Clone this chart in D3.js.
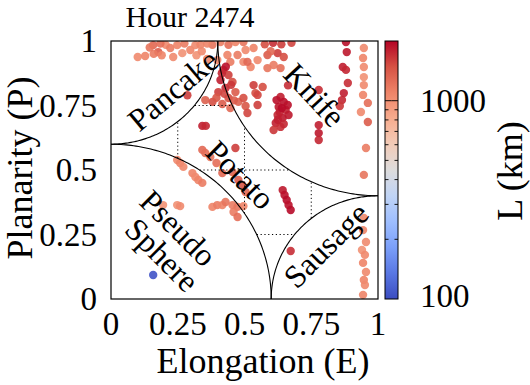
<!DOCTYPE html>
<html><head><meta charset="utf-8"><script src="https://d3js.org/d3.v7.min.js"></script></head>
<body style="margin:0">
<script>
// [elongation, planarity, L (km)] grouped by where they sit on the plot
const topLeft = [[0.10,0.938,1050],[0.128,0.942,1100],[0.158,0.984,1300],[0.177,0.957,1400],[0.16,0.95,1150],
  [0.19,0.945,1100],[0.205,0.985,1050],[0.222,0.973,1150],[0.233,0.938,1050],[0.248,0.984,1100],[0.267,0.953,1000],
  [0.275,0.99,1150],[0.297,0.965,1100],[0.316,0.984,1050],[0.32,0.945,1000],[0.335,0.985,1100],[0.34,0.96,1050],
  [0.36,0.93,1100],[0.145,0.975,1200],[0.185,0.99,1250]];
const tipTop = [[0.41,0.996,1150],[0.44,0.985,1250],[0.466,0.996,1100],[0.496,0.996,1200],[0.436,0.946,1100],
  [0.474,0.946,1150],[0.504,0.965,1050],[0.534,0.973,1100],[0.549,0.926,1050],[0.398,0.926,1100],[0.447,0.919,1150],
  [0.496,0.919,1050],[0.523,0.899,1100],[0.38,0.985,1200],[0.36,0.99,1100]];
const tipColumn = [[0.421,0.888,1700],[0.44,0.868,1600],[0.41,0.849,1800],[0.455,0.841,1500],[0.429,0.818,1700],
  [0.402,0.802,1600],[0.466,0.802,1400],[0.44,0.779,1500],[0.417,0.756,1400],[0.477,0.764,1350],[0.38,0.764,1500],
  [0.447,0.74,1300],[0.504,0.748,1450],[0.353,0.771,1350],[0.43,0.9,1900],[0.415,0.875,1750],[0.45,0.83,1650],
  [0.425,0.795,1550],[0.46,0.77,1400],[0.395,0.78,1450],[0.286,0.79,1600],[0.496,0.779,1500],[0.511,0.721,1550],
  [0.541,0.798,1500],[0.549,0.752,1600]];
const knifeTop = [[0.576,0.987,1500],[0.607,0.993,1700],[0.638,0.987,1600],[0.676,0.993,1550],[0.586,0.946,1400],
  [0.624,0.953,1600],[0.647,0.938,1500],[0.586,0.895,1200],[0.609,0.907,1150],[0.635,0.895,1250],[0.511,0.919,1300],
  [0.598,0.96,1300],[0.534,0.829,1600],[0.568,0.822,1500],[0.549,0.791,1550],[0.663,0.828,1700]];
const knifeCluster = [[0.635,0.783,1800],[0.647,0.764,1900],[0.628,0.744,1850],[0.654,0.733,1800],[0.624,0.713,1750],
  [0.643,0.702,1850],[0.617,0.682,1800],[0.635,0.667,1700],[0.609,0.655,1650],[0.662,0.752,1900],[0.665,0.713,1850],
  [0.647,0.678,1750],[0.632,0.725,1800],[0.62,0.771,1900],[0.64,0.74,1950],[0.625,0.695,1800],
  [0.778,0.81,1700],[0.778,0.674,1800],[0.778,0.643,1850],[0.778,0.616,1750]];
const rightColumns = [[0.88,0.996,1900],[0.883,0.957,1850],[0.868,0.899,1800],[0.88,0.888,1750],[0.887,0.837,1700],
  [0.872,0.798,1800],[0.865,0.771,1750],[0.857,0.748,1650],
  [0.947,0.973,1050],[0.944,0.934,1100],[0.947,0.899,1050],[0.947,0.86,1000],[0.947,0.829,1050],[0.944,0.791,1100],
  [0.962,0.76,1250],[0.936,0.725,1050],[0.962,0.686,1400],[0.955,0.585,1150],[0.947,0.481,1200]];
const sausagePts = [[0.947,0.314,1050],[0.944,0.267,1100],[0.955,0.221,1050],[0.94,0.19,1000],[0.951,0.171,1050],
  [0.944,0.14,1100],[0.955,0.105,1050],[0.947,0.074,1100],[0.951,0.054,1050],[0.944,0.016,1100],[0.673,0.186,1700]];
const potatoPts = [[0.342,0.671,1800],[0.355,0.671,1750],[0.466,0.585,1600],[0.342,0.578,1300],[0.353,0.566,1250],
  [0.372,0.55,1200],[0.395,0.527,1250],[0.417,0.488,1300],[0.455,0.492,1350],[0.477,0.461,1400],[0.492,0.442,1450],
  [0.504,0.415,1300],[0.248,0.539,1050],[0.259,0.527,1100],[0.271,0.512,1050],[0.305,0.488,1100],[0.316,0.473,1050],
  [0.327,0.461,1100],[0.342,0.45,1150],[0.38,0.357,1100],[0.398,0.364,1150],[0.417,0.364,1100],[0.429,0.376,1200],
  [0.248,0.364,1000],[0.259,0.36,1050],[0.195,0.364,1000],[0.455,0.364,1150],[0.474,0.357,1200],[0.496,0.36,1100],
  [0.459,0.337,1150],[0.474,0.318,1250],[0.643,0.422,1850],[0.65,0.403,1900],[0.658,0.384,1950],[0.665,0.364,1900],
  [0.673,0.345,1950]];
const spherePts = [[0.158,0.093,105]];

// class boundaries: quarter circles (centre E, centre P, radius)
const boundaries = [[0,1,0.4],[1,1,0.6],[0,0,0.6],[1,0,0.4]];
const gridLevels = [0.25, 0.5, 0.75];

const xTicks = [0, 0.25, 0.5, 0.75, 1];
const xTickLabels = ["0", "0.25", "0.5", "0.75", "1"];
const yTicks = [0, 0.25, 0.5, 0.75, 1];
const yTickLabels = ["0", "0.25", "0.5", "0.75", "1"];
const cbTicks = [100, 1000];
const cbMinor = [200, 300, 400, 500, 600, 700, 800, 900, 2000];
const lDomain = [100, 2000];
const regionNames = ["Pancake", "Knife", "Potato", "Pseudo", "Sphere", "Sausage"];
const coolwarm = ["#3b4cc0", "#5977e3", "#7b9ff9", "#9ebeff", "#c0d4f5", "#dddcdc",
                  "#f2cbb7", "#f7ac8e", "#ee8468", "#d65244", "#b40426"];

const FONT = "Liberation Serif, Tinos, Times New Roman, FreeSerif, serif";
const svg = d3.select("body").append("svg").attr("width", 530).attr("height", 385)
  .attr("font-family", FONT).style("font-family", FONT);

const x = d3.scaleLinear().domain([0, 1]).range([111, 378]);
const y = d3.scaleLinear().domain([0, 1]).range([299, 41]);
const cbY = d3.scaleLog().domain(lDomain).range([299, 41]);
const tOf = d3.scaleLog().domain(lDomain).range([0, 1]).clamp(true);
const cmap = d3.piecewise(d3.interpolateRgb, coolwarm);
const color = L => cmap(tOf(L));

function label(sel, size) {
  return sel.attr("font-family", FONT).style("font-family", FONT)
    .style("font-size", size + "px").style("fill", "#000");
}

// points
svg.append("clipPath").attr("id", "plotClip").append("rect")
  .attr("x", x(0)).attr("y", y(1)).attr("width", x(1) - x(0)).attr("height", y(0) - y(1));
const allPts = [].concat(topLeft, tipTop, tipColumn, knifeTop, knifeCluster, rightColumns, sausagePts, potatoPts, spherePts);
svg.append("g").attr("clip-path", "url(#plotClip)")
  .selectAll("circle").data(allPts).enter().append("circle")
  .attr("cx", d => x(d[0])).attr("cy", d => y(d[1])).attr("r", 4.2)
  .attr("fill", d => color(d[2])).attr("fill-opacity", 0.9);

// boundary arcs
const arcLine = d3.line().x(d => x(d[0])).y(d => y(d[1]));
boundaries.forEach(b => {
  const pts = d3.range(0, 1.0001, 0.01).map(t => {
    const a = t * Math.PI / 2;
    const ex = b[0] === 0 ? b[2] * Math.sin(a) : 1 - b[2] * Math.sin(a);
    const ey = b[1] === 0 ? b[2] * Math.cos(a) : 1 - b[2] * Math.cos(a);
    return [ex, ey];
  });
  svg.append("path").attr("d", arcLine(pts)).attr("fill", "none")
    .attr("stroke", "#000").attr("stroke-width", 1.1);
});

// dotted grid inside the potato region
const outside = (e, p) => boundaries.every(b => Math.hypot(e - b[0], p - b[1]) > b[2]);
gridLevels.forEach(g => {
  ["v", "h"].forEach(dir => {
    let run = [];
    const runs = [];
    d3.range(0, 1.0001, 0.002).forEach(t => {
      const e = dir === "v" ? g : t, p = dir === "v" ? t : g;
      if (outside(e, p)) run.push([e, p]);
      else if (run.length) { runs.push(run); run = []; }
    });
    if (run.length) runs.push(run);
    runs.forEach(r => svg.append("path").attr("d", arcLine([r[0], r[r.length - 1]]))
      .attr("stroke", "#000").attr("stroke-width", 1).attr("stroke-dasharray", "1.2,2.6"));
  });
});

// frame
svg.append("rect").attr("x", x(0)).attr("y", y(1)).attr("width", x(1) - x(0)).attr("height", y(0) - y(1))
  .attr("fill", "none").attr("stroke", "#000").attr("stroke-width", 1.2);

// region labels
const labelPos = {Pancake: [0.232, 0.81, -40], Knife: [0.763, 0.791, 47], Potato: [0.485, 0.481, 45],
  Pseudo: [0.252, 0.275, 45], Sphere: [0.192, 0.171, 45], Sausage: [0.805, 0.209, -45]};
regionNames.forEach(n => {
  const p = labelPos[n];
  label(svg.append("text"), 32).attr("transform", `translate(${x(p[0])},${y(p[1])}) rotate(${p[2]})`)
    .attr("text-anchor", "middle").attr("dominant-baseline", "central").text(n);
});

// tick labels
xTicks.forEach((v, i) => label(svg.append("text"), 33).attr("x", x(v)).attr("y", 335)
  .attr("text-anchor", "middle").text(xTickLabels[i]));
yTicks.forEach((v, i) => label(svg.append("text"), 33).attr("x", 97).attr("y", y(v))
  .attr("text-anchor", "end").attr("dominant-baseline", "central").text(yTickLabels[i]));

label(svg.append("text"), 36).attr("x", 263).attr("y", 373).attr("text-anchor", "middle").text("Elongation (E)");
label(svg.append("text"), 36).attr("transform", "translate(32,168) rotate(-90)").attr("text-anchor", "middle")
  .text("Planarity (P)");
label(svg.append("text"), 30).attr("x", 190).attr("y", 27).attr("text-anchor", "middle").text("Hour 2474");

// colorbar
const cbX = 385, cbW = 13;
const grad = svg.append("defs").append("linearGradient").attr("id", "cbGrad")
  .attr("x1", 0).attr("y1", 1).attr("x2", 0).attr("y2", 0);
d3.range(0, 1.0001, 0.05).forEach(t => grad.append("stop").attr("offset", t).attr("stop-color", cmap(t)));
svg.append("rect").attr("x", cbX).attr("y", cbY(lDomain[1])).attr("width", cbW)
  .attr("height", cbY(lDomain[0]) - cbY(lDomain[1])).attr("fill", "url(#cbGrad)")
  .attr("stroke", "#000").attr("stroke-width", 1);
cbMinor.concat(cbTicks).filter(v => v > lDomain[0] && v < lDomain[1]).forEach(v => {
  const len = cbTicks.includes(v) ? cbW / 2 : 3.5;
  [[cbX, cbX + len], [cbX + cbW - len, cbX + cbW]].forEach(s =>
    svg.append("line").attr("x1", s[0]).attr("x2", s[1]).attr("y1", cbY(v)).attr("y2", cbY(v))
      .attr("stroke", "#000").attr("stroke-width", 0.9));
});
cbTicks.forEach(v => label(svg.append("text"), 33).attr("x", 420).attr("y", cbY(v) - (v === 100 ? 3 : 0))
  .attr("dominant-baseline", "central").text(v));
label(svg.append("text"), 36).attr("transform", "translate(510,171) rotate(-90)").attr("text-anchor", "middle")
  .attr("dominant-baseline", "central").text("L (km)");
</script></body></html>
